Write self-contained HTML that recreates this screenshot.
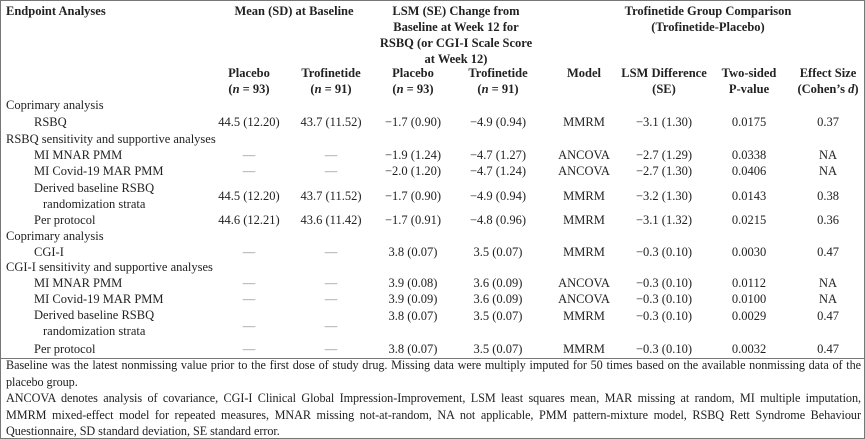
<!DOCTYPE html>
<html><head><meta charset="utf-8"><style>
html,body{margin:0;padding:0;background:#fff}
#t{position:relative;width:863px;height:437px;border:1px solid #777;font-family:"Liberation Serif",serif;font-size:12.5px;color:#222;overflow:hidden}
.c{position:absolute;white-space:nowrap;line-height:16px;transform:translate(-50%,-50%)}
.l{position:absolute;white-space:nowrap;line-height:16px;transform:translateY(-50%)}
.b{font-weight:bold}
#sep{position:absolute;left:0;top:357px;width:863px;height:1px;background:#777}
.fn{position:absolute;left:5px;width:855px;line-height:16.5px;font-size:12.2px;letter-spacing:-0.05px}
.fn div{text-align:justify;text-align-last:justify;white-space:nowrap}
.fn div.last{text-align-last:left}
</style></head><body>
<div id="t">
<div class="l b" style="left:5px;top:10px">Endpoint Analyses</div>
<div class="c b" style="left:293px;top:10px">Mean (SD) at Baseline</div>
<div class="c b" style="left:455px;top:34px;text-align:center;line-height:16px">LSM (SE) Change from<br>Baseline at Week 12 for<br>RSBQ (or CGI-I Scale Score<br>at Week 12)</div>
<div class="c b" style="left:707px;top:18px;text-align:center">Trofinetide Group Comparison<br>(Trofinetide-Placebo)</div>
<div class="c b" style="left:248px;top:80px;text-align:center">Placebo<br>(<i>n</i> = 93)</div>
<div class="c b" style="left:330px;top:80px;text-align:center">Trofinetide<br>(<i>n</i> = 91)</div>
<div class="c b" style="left:412px;top:80px;text-align:center">Placebo<br>(<i>n</i> = 93)</div>
<div class="c b" style="left:497px;top:80px;text-align:center">Trofinetide<br>(<i>n</i> = 91)</div>
<div class="c b" style="left:583px;top:72px">Model</div>
<div class="c b" style="left:663px;top:80px;text-align:center">LSM Difference<br>(SE)</div>
<div class="c b" style="left:748px;top:80px;text-align:center">Two-sided<br>P-value</div>
<div class="c b" style="left:827px;top:80px;text-align:center">Effect Size<br>(Cohen’s <i>d</i>)</div>
<div id="sep"></div>
<div class="fn" style="top:356px"><div>Baseline was the latest nonmissing value prior to the first dose of study drug. Missing data were multiply imputed for 50 times based on the available nonmissing data of the</div><div class="last">placebo group.</div></div>
<div class="fn" style="top:389px"><div>ANCOVA denotes analysis of covariance, CGI-I Clinical Global Impression-Improvement, LSM least squares mean, MAR missing at random, MI multiple imputation,</div><div>MMRM mixed-effect model for repeated measures, MNAR missing not-at-random, NA not applicable, PMM pattern-mixture model, RSBQ Rett Syndrome Behaviour</div><div class="last">Questionnaire, SD standard deviation, SE standard error.</div></div>
</div>
<script>
const D="—";
const rowY=[104,121,138,154,170,195,219,235,251,266,282,298,322,348];
const labels=["Coprimary analysis","RSBQ","RSBQ sensitivity and supportive analyses","MI MNAR PMM","MI Covid-19 MAR PMM","Derived baseline RSBQ|randomization strata","Per protocol","Coprimary analysis","CGI-I","CGI-I sensitivity and supportive analyses","MI MNAR PMM","MI Covid-19 MAR PMM","Derived baseline RSBQ|randomization strata","Per protocol"];
const indent=[0,1,0,1,1,1,1,0,1,0,1,1,1,1];
const basePlacebo=[null,"44.5 (12.20)",null,D,D,"44.5 (12.20)","44.6 (12.21)",null,D,null,D,D,D,D];
const baseTrof=[null,"43.7 (11.52)",null,D,D,"43.7 (11.52)","43.6 (11.42)",null,D,null,D,D,D,D];
const chgPlacebo=[null,"−1.7 (0.90)",null,"−1.9 (1.24)","−2.0 (1.20)","−1.7 (0.90)","−1.7 (0.91)",null,"3.8 (0.07)",null,"3.9 (0.08)","3.9 (0.09)","3.8 (0.07)","3.8 (0.07)"];
const chgTrof=[null,"−4.9 (0.94)",null,"−4.7 (1.27)","−4.7 (1.24)","−4.9 (0.94)","−4.8 (0.96)",null,"3.5 (0.07)",null,"3.6 (0.09)","3.6 (0.09)","3.5 (0.07)","3.5 (0.07)"];
const model=[null,"MMRM",null,"ANCOVA","ANCOVA","MMRM","MMRM",null,"MMRM",null,"ANCOVA","ANCOVA","MMRM","MMRM"];
const lsmDiff=[null,"−3.1 (1.30)",null,"−2.7 (1.29)","−2.7 (1.30)","−3.2 (1.30)","−3.1 (1.32)",null,"−0.3 (0.10)",null,"−0.3 (0.10)","−0.3 (0.10)","−0.3 (0.10)","−0.3 (0.10)"];
const pval=[null,"0.0175",null,"0.0338","0.0406","0.0143","0.0215",null,"0.0030",null,"0.0112","0.0100","0.0029","0.0032"];
const eff=[null,"0.37",null,"NA","NA","0.38","0.36",null,"0.47",null,"NA","NA","0.47","0.47"];
const cols=[[basePlacebo,248,"baseline-placebo"],[baseTrof,330,"baseline-trofinetide"],[chgPlacebo,412,"change-placebo"],[chgTrof,497,"change-trofinetide"],[model,583,"model"],[lsmDiff,663,"lsm-difference"],[pval,748,"p-value"],[eff,827,"effect-size"]];
const t=document.getElementById('t');
labels.forEach((lab,i)=>{
  const parts=lab.split('|');
  const el=document.createElement('div');
  el.className='l';
  
  
  el.style.left=(indent[i]?33:5)+'px';
  el.style.top=rowY[i]+'px';
  el.innerHTML=parts[0]+(parts[1]?'<br><span style="padding-left:9px">'+parts[1]+'</span>':'');
  t.appendChild(el);
  cols.forEach(([arr,x,nm])=>{
    if(arr[i]==null)return;
    const c=document.createElement('div');
    c.className='c';
    
    
    c.style.left=x+'px';
    let y=rowY[i];
    if(i===12&&x>400)y=315;
    if(i===12&&x<400)y=325;
    c.style.top=y+'px';
    c.textContent=arr[i];
    if(arr[i]===D)c.style.color='#888';
    t.appendChild(c);
  });
});
</script>
</body></html>
